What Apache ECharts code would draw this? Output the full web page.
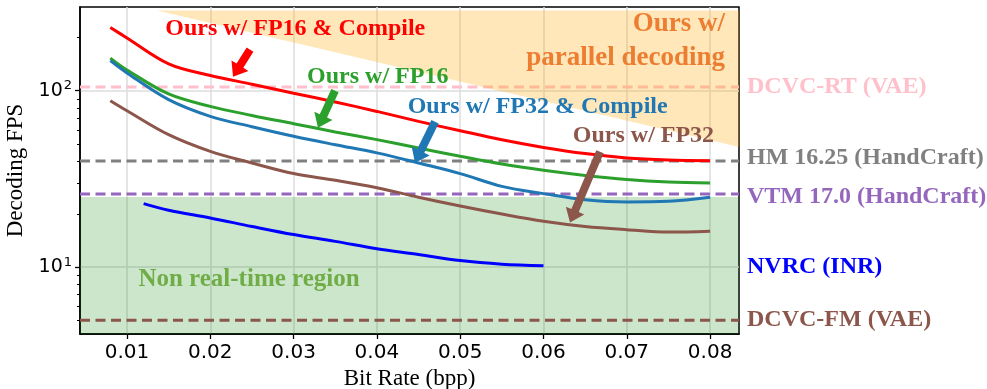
<!DOCTYPE html>
<html>
<head>
<meta charset="utf-8">
<script src="https://cdn.jsdelivr.net/npm/echarts@6.0.0/dist/echarts.min.js"></script>
<style>
  html, body { margin: 0; padding: 0; background: #fff; }
  #chart { width: 987px; height: 389px; }
</style>
</head>
<body>
<div id="chart"></div>
<script>
// curves (bit rate in bpp, decoding FPS)
var bitRate = [0.008, 0.01, 0.015, 0.02, 0.025, 0.03, 0.035, 0.04, 0.045, 0.05, 0.055, 0.06, 0.065, 0.07, 0.075, 0.08]
var fp16Compile = [228, 199, 142, 122, 108.8, 96.8, 86.3, 76.3, 67, 59.3, 52.7, 47.7, 44, 41.6, 40.5, 40.1]
var fp16 = [153, 131, 95.8, 81.5, 72.4, 65, 58.4, 52.8, 47.3, 42.5, 38.4, 35.4, 33.1, 31.4, 30.4, 30]
var fp32Compile = [148, 126, 88.9, 71.5, 62.5, 55.2, 49.4, 44.4, 38.9, 33.9, 28.7, 26.1, 24.1, 23.4, 23.6, 24.9]
var fp32 = [87.8, 77, 56.3, 45.3, 38.9, 33.9, 31.1, 28.2, 24.9, 22.2, 20, 18.2, 17, 16.3, 15.8, 16]
var nvrcRate = [0.012, 0.015, 0.02, 0.025, 0.03, 0.035, 0.04, 0.045, 0.05, 0.055, 0.06]
var nvrcFps = [22.9, 21, 19, 17, 15.3, 14, 12.7, 11.8, 10.9, 10.4, 10.2]

// reference methods (horizontal dashed lines)
var refNames = ['DCVC-RT (VAE)', 'HM 16.25 (HandCraft)', 'VTM 17.0 (HandCraft)', 'DCVC-FM (VAE)']
var refFps = [105, 40, 26, 5]

// labels on the right of the plot
var sideNames = ['DCVC-RT (VAE)', 'HM 16.25 (HandCraft)', 'VTM 17.0 (HandCraft)', 'NVRC (INR)', 'DCVC-FM (VAE)']
var sideFps = [105, 41.7, 25.1, 10, 5.04]

// regions
var realTimeFps = 25
var parallelX = [0.0136, 0.0835, 0.0835]
var parallelY = [285, 285, 48]

// annotations
var annotTexts = ['Ours w/ FP16 & Compile', 'Ours w/ FP16', 'Ours w/ FP32 & Compile', 'Ours w/ FP32', 'Non real-time region']
var annotX = [0.0302, 0.0401, 0.0593, 0.072, 0.02465]
var annotY = [224.5, 120.5, 81.5, 55.8, 8.5]
var parallelLines = ['Ours w/', 'parallel decoding']
var parallelTextX = [0.0818, 0.0818]
var parallelTextY = [239.7, 153.8]

var arrowFromX = [0.02477, 0.03497, 0.04698, 0.06678]
var arrowFromY = [170.8, 100, 66.7, 45.1]
var arrowToX = [0.02273, 0.03293, 0.04457, 0.06318]
var arrowToY = [120, 61.7, 39.1, 17.9]

var xTicks = [0.01, 0.02, 0.03, 0.04, 0.05, 0.06, 0.07, 0.08]
var yTicks = [10, 100]
var yMinorTicks = [5, 6, 7, 8, 9, 20, 30, 40, 50, 60, 70, 80, 90, 200]

var X_MIN = 0.00436, X_MAX = 0.08347, Y_MIN = 4.18, Y_MAX = 298

var RED = '#ff0000', GREEN = '#2ca02c', BLUE = '#1f77b4', BROWN = '#8c564b'
var curveColors = [RED, GREEN, BLUE, BROWN]
var refColors = ['#ffc0cb', '#808080', '#9467bd', BROWN]
var sideColors = ['#ffc0cb', '#808080', '#9467bd', '#0000ff', BROWN]
var annotColors = [RED, GREEN, BLUE, BROWN, '#70ad47']
var SERIF = '"Liberation Serif", "Times New Roman", serif'

function zip(xs, ys) {
  return xs.map(function (x, i) { return [x, ys[i]] })
}

var chart = echarts.init(document.getElementById('chart'), null, { renderer: 'canvas' })

var series = []

// non real-time region (green)
series.push({
  type: 'custom',
  z: 1,
  silent: true,
  data: [[0.04, 10]],
  renderItem: function (params, api) {
    var pts = [[X_MIN, Y_MIN], [X_MAX, Y_MIN], [X_MAX, realTimeFps], [X_MIN, realTimeFps]].map(function (p) { return api.coord(p) })
    return { type: 'polygon', shape: { points: pts }, style: { fill: 'rgba(0,128,0,0.2)' } }
  }
})

// reference dashed lines
refNames.forEach(function (name, i) {
  series.push({
    type: 'line',
    name: name,
    z: 2,
    silent: true,
    showSymbol: false,
    data: [[X_MIN, refFps[i]], [X_MAX, refFps[i]]],
    lineStyle: { color: refColors[i], width: 3, type: [10, 5.5] }
  })
})

// our curves
var curves = [fp16Compile, fp16, fp32Compile, fp32]
curves.forEach(function (vals, i) {
  series.push({
    type: 'line',
    z: 3,
    showSymbol: false,
    smooth: 0.35,
    data: zip(bitRate, vals),
    lineStyle: { color: curveColors[i], width: 3 }
  })
})
series.push({
  type: 'line',
  z: 3,
  showSymbol: false,
  smooth: 0.35,
  data: zip(nvrcRate, nvrcFps),
  lineStyle: { color: '#0000ff', width: 3 }
})

// parallel decoding region (orange, on top of the dashes)
series.push({
  type: 'custom',
  z: 4,
  silent: true,
  data: [[0.04, 10]],
  renderItem: function (params, api) {
    var pts = parallelX.map(function (x, i) { return api.coord([x, parallelY[i]]) })
    return { type: 'polygon', shape: { points: pts }, style: { fill: 'rgba(255,165,0,0.27)' } }
  }
})

// arrows
series.push({
  type: 'custom',
  z: 5,
  silent: true,
  data: arrowFromX.map(function (x, i) { return [x, arrowFromY[i], arrowToX[i], arrowToY[i]] }),
  renderItem: function (params, api) {
    var a = api.coord([api.value(0), api.value(1)])
    var b = api.coord([api.value(2), api.value(3)])
    var dx = b[0] - a[0], dy = b[1] - a[1]
    var len = Math.sqrt(dx * dx + dy * dy)
    var ux = dx / len, uy = dy / len
    var nx = -uy, ny = ux
    var hl = 13, hw = 10, sw = 4
    var bx = b[0] - ux * hl, by = b[1] - uy * hl
    var pts = [
      [a[0] + nx * sw, a[1] + ny * sw],
      [bx + nx * sw, by + ny * sw],
      [bx + nx * hw, by + ny * hw],
      [b[0], b[1]],
      [bx - nx * hw, by - ny * hw],
      [bx - nx * sw, by - ny * sw],
      [a[0] - nx * sw, a[1] - ny * sw]
    ]
    return { type: 'polygon', shape: { points: pts }, style: { fill: curveColors[params.dataIndex] } }
  }
})

// in-plot annotations
series.push({
  type: 'custom',
  z: 6,
  silent: true,
  data: zip(annotX, annotY),
  renderItem: function (params, api) {
    var p = api.coord([api.value(0), api.value(1)])
    var last = params.dataIndex === annotTexts.length - 1
    return {
      type: 'text',
      style: {
        text: annotTexts[params.dataIndex],
        x: p[0], y: p[1],
        align: 'center', verticalAlign: 'middle',
        fill: annotColors[params.dataIndex],
        font: 'bold ' + (last ? 25 : 24) + 'px ' + SERIF
      }
    }
  }
})
series.push({
  type: 'custom',
  z: 6,
  silent: true,
  data: zip(parallelTextX, parallelTextY),
  renderItem: function (params, api) {
    var p = api.coord([api.value(0), api.value(1)])
    return {
      type: 'text',
      style: {
        text: parallelLines[params.dataIndex],
        x: p[0], y: p[1],
        align: 'right', verticalAlign: 'middle',
        fill: '#ed7d31',
        font: 'bold 27px ' + SERIF
      }
    }
  }
})

// right-hand labels
series.push({
  type: 'custom',
  z: 6,
  silent: true,
  data: sideFps.map(function (v) { return [X_MAX, v] }),
  renderItem: function (params, api) {
    var p = api.coord([api.value(0), api.value(1)])
    return {
      type: 'text',
      style: {
        text: sideNames[params.dataIndex],
        x: p[0] + 8, y: p[1],
        align: 'left', verticalAlign: 'middle',
        fill: sideColors[params.dataIndex],
        font: 'bold 24px ' + SERIF
      }
    }
  }
})

var option = {
  animation: false,
  backgroundColor: '#fff',
  grid: {
    left: 80, right: 248, top: 7, bottom: 55,
    outerBoundsMode: 'none',
    containLabel: false,
    show: true, borderColor: '#000', borderWidth: 1.5
  },
  xAxis: {
    type: 'value',
    min: X_MIN,
    max: X_MAX,
    name: 'Bit Rate (bpp)',
    nameLocation: 'middle',
    nameGap: 31,
    nameTextStyle: { fontFamily: SERIF, fontSize: 23, color: '#000' },
    axisLine: { show: true, lineStyle: { color: '#000', width: 1.5 } },
    axisTick: { show: true, length: 5, customValues: xTicks, lineStyle: { color: '#000', width: 1.3 } },
    axisLabel: {
      customValues: xTicks,
      formatter: function (v) { return v.toFixed(2) },
      fontFamily: 'DejaVu Sans', fontSize: 20, color: '#000', margin: 9
    },
    splitLine: { show: true, lineStyle: { color: '#dcdcdc', width: 1.5 } }
  },
  yAxis: [{
    type: 'log',
    logBase: 10,
    min: Y_MIN,
    max: Y_MAX,
    name: 'Decoding FPS',
    nameLocation: 'middle',
    nameGap: 50,
    nameTextStyle: { fontFamily: SERIF, fontSize: 23, color: '#000' },
    axisLine: { show: true, lineStyle: { color: '#000', width: 1.5 } },
    axisTick: { show: true, length: 5, customValues: yTicks, lineStyle: { color: '#000', width: 1.3 } },
    axisLabel: {
      customValues: yTicks,
      margin: 8,
      formatter: function (v) { return '{b|10}{s|' + Math.round(Math.log10(v)) + '}' },
      rich: {
        b: { fontFamily: 'DejaVu Sans', fontSize: 19, color: '#000' },
        s: { fontFamily: 'DejaVu Sans', fontSize: 13, color: '#000', padding: [0, 0, 10, 1] }
      }
    },
    splitLine: { show: true, lineStyle: { color: '#dcdcdc', width: 1.5 } }
  }, {
    type: 'log',
    logBase: 10,
    min: Y_MIN,
    max: Y_MAX,
    position: 'left',
    axisLine: { show: false },
    axisTick: { show: true, length: 3, customValues: yMinorTicks, lineStyle: { color: '#000', width: 1 } },
    axisLabel: { show: false },
    splitLine: { show: false }
  }],
  series: series
}

chart.setOption(option)
</script>
</body>
</html>
